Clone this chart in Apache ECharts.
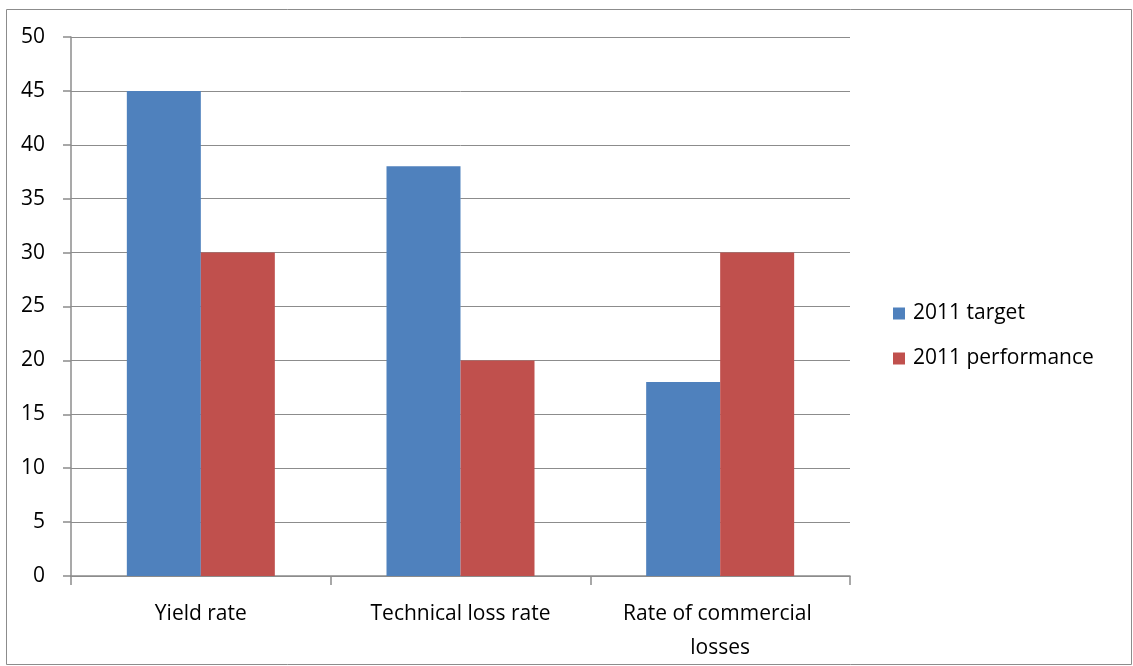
<!DOCTYPE html>
<html><head><meta charset="utf-8">
<script src="https://cdn.jsdelivr.net/npm/echarts@6/dist/echarts.min.js"></script>
<style>html,body{margin:0;padding:0;background:#fff}#c{width:1133px;height:666px}</style>
</head><body><div id="c"></div>
<script>
const categories = ["Yield rate", "Technical loss rate", "Rate of commercial losses"];
const seriesNames = ["2011 target", "2011 performance"];
const target2011 = [45, 38, 18];
const performance2011 = [30, 20, 30];
const yTicks = {min: 0, max: 50, interval: 5};

const chart = echarts.init(document.getElementById('c'));
const font = '"Open Sans", "Noto Sans", sans-serif';
chart.setOption({
  animation: false,
  textStyle: {fontFamily: font},
  graphic: [{type: 'rect', shape: {x: 6.5, y: 9.5, width: 1125, height: 655}, style: {fill: 'none', stroke: '#8c8c8c', lineWidth: 1}, silent: true}],
  grid: {left: 71, right: 283, top: 37, bottom: 90, containLabel: false},
  legend: {
    orient: 'vertical', left: 888, top: 298, itemWidth: 12, itemHeight: 12, itemGap: 24,
    icon: 'rect',
    textStyle: {fontSize: 21, color: '#000', fontFamily: font, padding: [0,0,0,3]},
    data: seriesNames
  },
  xAxis: {
    type: 'category', data: categories,
    axisLine: {lineStyle: {color: '#8c8c8c', width: 1.5}},
    axisTick: {show: true, length: 9, lineStyle: {color: '#8c8c8c', width: 1.5}},
    axisLabel: {interval: 0, fontSize: 21, color: '#000', margin: 21, lineHeight: 34, width: 225, overflow: 'break', fontFamily: font}
  },
  yAxis: {
    type: 'value', min: yTicks.min, max: yTicks.max, interval: yTicks.interval,
    axisLine: {show: true, lineStyle: {color: '#8c8c8c', width: 1.5}},
    axisTick: {show: true, length: 8, inside: false, lineStyle: {color: '#8c8c8c', width: 1.5}},
    splitLine: {lineStyle: {color: '#8c8c8c', width: 1}},
    axisLabel: {fontSize: 21, color: '#000', margin: 26, fontFamily: font}
  },
  series: [
    {name: seriesNames[0], type: 'bar', data: target2011, barWidth: 74, barGap: '0%', itemStyle: {color: '#4f81bd'}},
    {name: seriesNames[1], type: 'bar', data: performance2011, barWidth: 74, barGap: '0%', itemStyle: {color: '#c0504d'}}
  ]
});
</script></body></html>
